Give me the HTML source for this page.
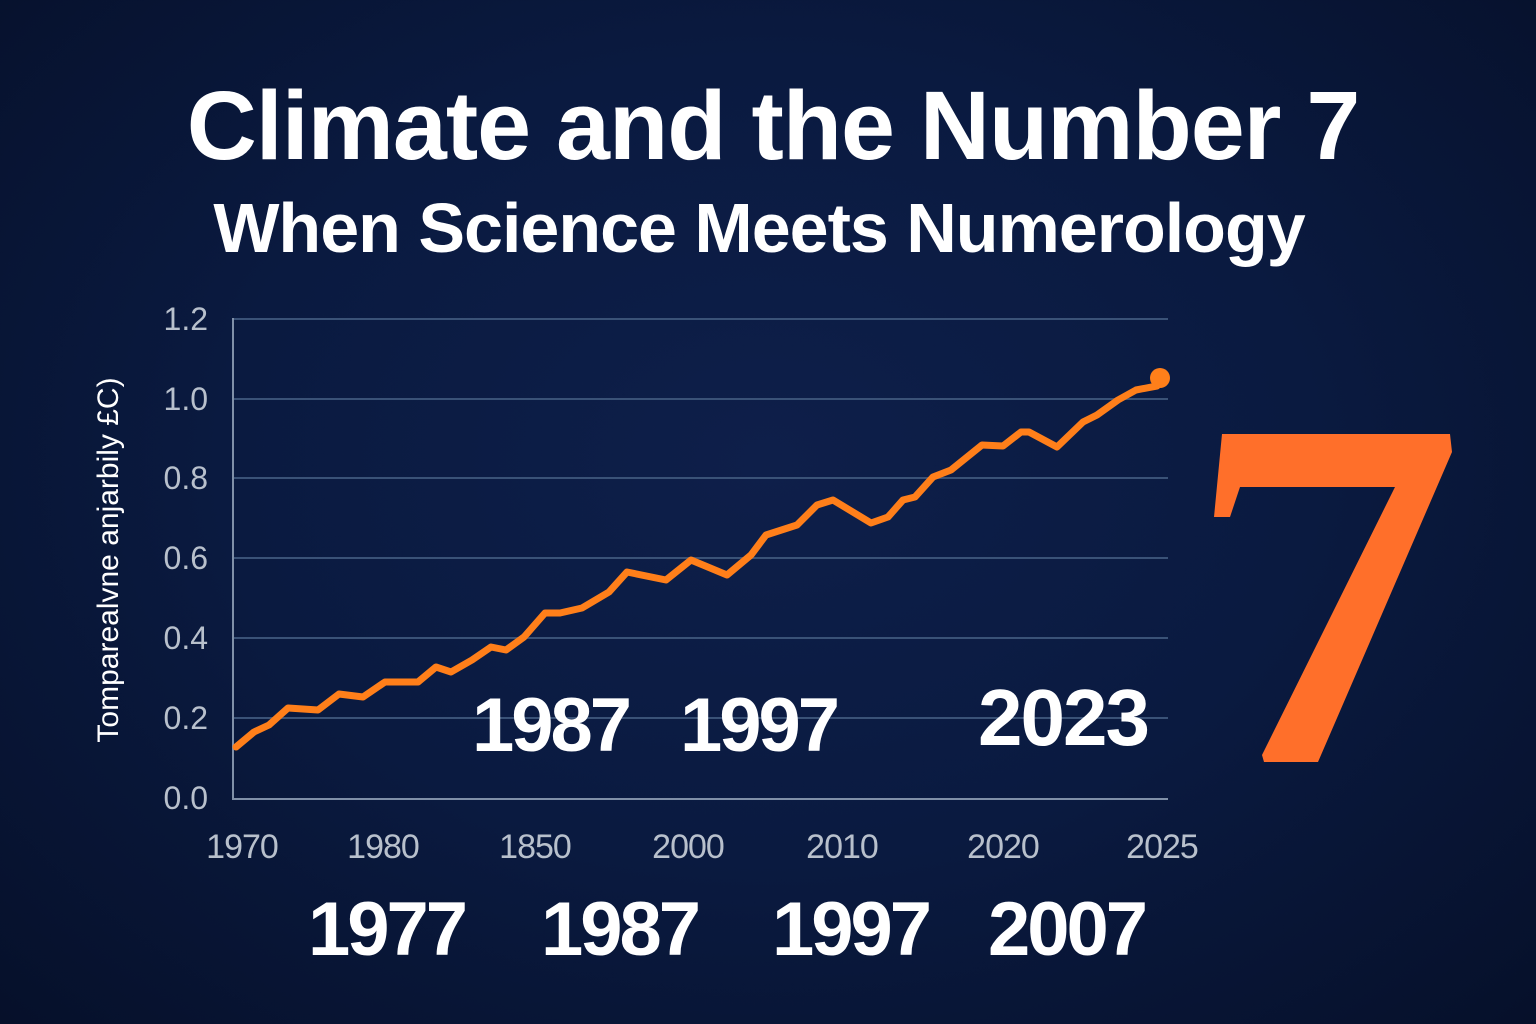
<!DOCTYPE html>
<html><head><meta charset="utf-8"><style>
html,body{margin:0;padding:0}
body{width:1536px;height:1024px;overflow:hidden;background:radial-gradient(ellipse at 50% 45%,#0e1f4a 0%,#0a1a40 50%,#06102a 100%);font-family:"Liberation Sans",sans-serif;position:relative}
.t{position:absolute;color:#fff;white-space:nowrap}
.y{font-size:76px;font-weight:bold;letter-spacing:-3px}
</style></head><body>
<div class="t" style="left:0;width:1546px;text-align:center;top:70px;font-size:97px;font-weight:bold;letter-spacing:-1px">Climate and the Number 7</div>
<div class="t" style="left:0;width:1518px;text-align:center;top:188px;font-size:70px;font-weight:bold;letter-spacing:-1px">When Science Meets Numerology</div>
<svg width="1536" height="1024" style="position:absolute;left:0;top:0">
<g stroke="#3a5277" stroke-width="2">
<line x1="232" y1="319" x2="1168" y2="319"/><line x1="232" y1="399" x2="1168" y2="399"/><line x1="232" y1="478" x2="1168" y2="478"/><line x1="232" y1="558" x2="1168" y2="558"/><line x1="232" y1="638" x2="1168" y2="638"/><line x1="232" y1="718" x2="1168" y2="718"/>
</g>
<line x1="233" y1="318" x2="233" y2="800" stroke="#8090a8" stroke-width="2"/>
<line x1="232" y1="799" x2="1168" y2="799" stroke="#8090a8" stroke-width="2"/>
<g fill="#b8c0cc" font-family="Liberation Sans, sans-serif" font-size="32" text-anchor="end">
<text x="208" y="330">1.2</text><text x="208" y="410">1.0</text><text x="208" y="489">0.8</text><text x="208" y="569">0.6</text><text x="208" y="649">0.4</text><text x="208" y="729">0.2</text><text x="208" y="809">0.0</text>
</g>
<g fill="#b8c0cc" font-family="Liberation Sans, sans-serif" font-size="34" text-anchor="middle" letter-spacing="-1">
<text x="242" y="858">1970</text><text x="383" y="858">1980</text><text x="535" y="858">1850</text><text x="688" y="858">2000</text><text x="842" y="858">2010</text><text x="1003" y="858">2020</text><text x="1162" y="858">2025</text>
</g>
<text transform="translate(118,560) rotate(-90)" fill="#fff" font-family="Liberation Sans, sans-serif" font-size="30" text-anchor="middle">Tomparealvne anjarbily £C)</text>
<polyline fill="none" stroke="#ff7f1a" stroke-width="7" stroke-linejoin="round" stroke-linecap="round" points="236,747 254,732 269,725 288,708 318,710 339,694 363,697 385,682 418,682 436,667 451,672 472,660 491,647 506,650 524,637 545,613 560,613 582,608 609,592 627,572 666,580 691,560 727,575 751,555 766,535 797,525 817,505 833,500 871,523 888,517 903,500 915,497 933,477 951,470 982,445 1003,446 1021,432 1029,432 1057,447 1083,422 1097,415 1118,400 1136,390 1157,386"/>
<circle cx="1160" cy="378" r="10" fill="#ff7f1a"/>
<path d="M1222,434 L1450,434 L1452,452 L1318,762 L1264,762 L1262,755 L1395,487 L1240,487 L1230,517 L1214,517 Z" fill="#ff6f2a"/>
</svg>
<div class="t y" style="left:472px;top:682px">1987</div>
<div class="t y" style="left:680px;top:682px">1997</div>
<div class="t y" style="left:978px;top:672px;font-size:80px;letter-spacing:-2px">2023</div>
<div class="t y" style="left:308px;top:886px">1977</div>
<div class="t y" style="left:541px;top:886px">1987</div>
<div class="t y" style="left:772px;top:886px">1997</div>
<div class="t y" style="left:988px;top:886px">2007</div>
</body></html>
